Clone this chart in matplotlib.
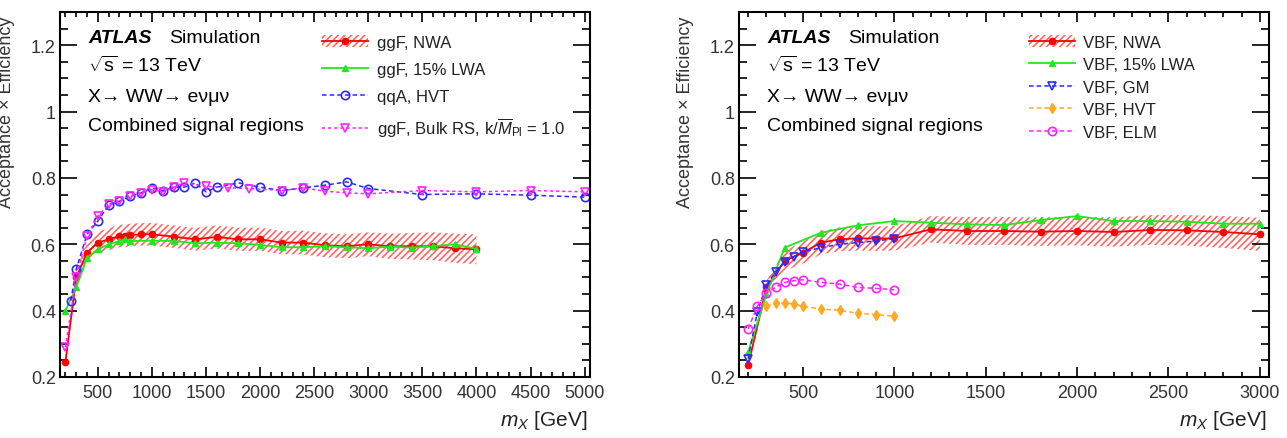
import numpy as np
import matplotlib
matplotlib.use('Agg')
import matplotlib.pyplot as plt
from matplotlib.patches import Patch
from matplotlib.lines import Line2D
from matplotlib.ticker import MultipleLocator

plt.rcParams['font.family'] = ['Liberation Sans', 'DejaVu Sans']
plt.rcParams['mathtext.fontset'] = 'custom'
plt.rcParams['mathtext.rm'] = 'Liberation Sans'
plt.rcParams['mathtext.it'] = 'Liberation Sans:italic'
plt.rcParams['hatch.linewidth'] = 1.2

# ---- left panel: ggF / qqA ----
ggf_nwa_m = [200, 300, 400, 500, 600, 700, 750, 800, 900, 1000, 1200, 1400, 1600, 1800,
             2000, 2200, 2400, 2600, 2800, 3000, 3200, 3400, 3600, 3800, 4000]
ggf_nwa_v = [0.245, 0.50, 0.575, 0.605, 0.615, 0.625, 0.625, 0.628, 0.63, 0.63, 0.623, 0.615,
             0.622, 0.615, 0.615, 0.605, 0.605, 0.597, 0.594, 0.60, 0.594, 0.594, 0.594, 0.588, 0.585]
ggf_nwa_err = [0.01, 0.025, 0.03, 0.033, 0.033, 0.034, 0.034, 0.034, 0.034, 0.034, 0.034, 0.034,
               0.035, 0.035, 0.035, 0.035, 0.036, 0.036, 0.036, 0.036, 0.038, 0.04, 0.042, 0.044, 0.045]

ggf_lwa_m = [200, 300, 400, 500, 600, 700, 750, 800, 1000, 1200, 1400, 1600, 1800, 2000,
             2200, 2400, 2600, 2800, 3000, 3200, 3400, 3600, 3800, 4000]
ggf_lwa_v = [0.40, 0.47, 0.56, 0.585, 0.60, 0.61, 0.615, 0.61, 0.611, 0.61, 0.603, 0.605, 0.603,
             0.598, 0.591, 0.591, 0.594, 0.591, 0.588, 0.593, 0.59, 0.594, 0.60, 0.586]

qqa_hvt_m = [250, 300, 400, 500, 600, 700, 800, 900, 1000, 1100, 1200, 1300, 1400, 1500, 1600,
             1800, 2000, 2200, 2400, 2600, 2800, 3000, 3500, 4000, 4500, 5000]
qqa_hvt_v = [0.43, 0.525, 0.63, 0.67, 0.718, 0.73, 0.745, 0.755, 0.77, 0.762, 0.772, 0.772, 0.785,
             0.758, 0.772, 0.785, 0.772, 0.762, 0.77, 0.778, 0.788, 0.768, 0.75, 0.752, 0.748, 0.742]

ggf_rs_m = [200, 300, 400, 500, 600, 700, 800, 900, 1000, 1100, 1200, 1300, 1500, 1700, 1900,
            2200, 2400, 2600, 2800, 3000, 3500, 4000, 4500, 5000]
ggf_rs_v = [0.29, 0.50, 0.625, 0.685, 0.72, 0.73, 0.745, 0.755, 0.765, 0.758, 0.772, 0.785, 0.775,
            0.77, 0.768, 0.762, 0.77, 0.76, 0.755, 0.752, 0.762, 0.758, 0.762, 0.758]

# ---- right panel: VBF ----
vbf_nwa_m = [200, 300, 400, 500, 600, 700, 800, 900, 1000, 1200, 1400, 1600, 1800, 2000,
             2200, 2400, 2600, 2800, 3000]
vbf_nwa_v = [0.235, 0.47, 0.55, 0.575, 0.605, 0.615, 0.618, 0.617, 0.618, 0.645, 0.64, 0.64,
             0.638, 0.64, 0.637, 0.643, 0.642, 0.637, 0.63]
vbf_nwa_err = [0.005, 0.02, 0.03, 0.033, 0.035, 0.036, 0.037, 0.037, 0.037, 0.04, 0.042, 0.042,
               0.043, 0.043, 0.044, 0.045, 0.046, 0.048, 0.05]

vbf_lwa_m = [200, 300, 400, 600, 800, 1000, 1200, 1400, 1600, 1800, 2000, 2200, 2400, 2600, 2800, 3000]
vbf_lwa_v = [0.275, 0.45, 0.59, 0.635, 0.657, 0.67, 0.665, 0.66, 0.658, 0.673, 0.685, 0.67,
             0.67, 0.668, 0.662, 0.662]

vbf_gm_m = [200, 250, 300, 350, 400, 450, 500, 600, 700, 800, 900, 1000]
vbf_gm_v = [0.255, 0.395, 0.477, 0.517, 0.547, 0.563, 0.577, 0.59, 0.60, 0.605, 0.61, 0.617]

vbf_hvt_m = [300, 350, 400, 450, 500, 600, 700, 800, 900, 1000]
vbf_hvt_v = [0.413, 0.423, 0.423, 0.42, 0.413, 0.405, 0.401, 0.392, 0.388, 0.383]

vbf_elm_m = [200, 250, 300, 350, 400, 450, 500, 600, 700, 800, 900, 1000]
vbf_elm_v = [0.345, 0.413, 0.453, 0.47, 0.485, 0.49, 0.493, 0.485, 0.48, 0.47, 0.467, 0.463]

RED = '#ff0000'
GREEN = '#22e622'
BLUE = '#2a2aff'
MAGENTA = '#ff22ff'
ORANGE = '#ffaa22'
HATCH = (1, 0.3, 0.3, 0.85)


def atlas_style(ax, xmax, xmajor):
    ax.set_ylim(0.2, 1.3)
    ax.set_xlim(150, xmax)
    ax.xaxis.set_major_locator(MultipleLocator(xmajor))
    ax.xaxis.set_minor_locator(MultipleLocator(100))
    ax.yaxis.set_minor_locator(MultipleLocator(0.05))
    ax.set_yticks([0.2, 0.4, 0.6, 0.8, 1.0, 1.2])
    ax.set_yticklabels(['0.2', '0.4', '0.6', '0.8', '1', '1.2'])
    ax.tick_params(axis='both', which='both', direction='in', top=True, right=True,
                   labelsize=13, width=1.2, labelcolor='#333333')
    ax.tick_params(axis='x', which='major', length=7, pad=5)
    ax.tick_params(axis='x', which='minor', length=3.5)
    ax.tick_params(axis='y', which='major', length=12, pad=3)
    ax.tick_params(axis='y', which='minor', length=6)
    for s in ax.spines.values():
        s.set_linewidth(1.5)
    ax.set_xlabel(r'$m_{X}$ [GeV]', fontsize=15, loc='right', color='#222222')
    ax.xaxis.set_label_coords(0.995, -0.085)
    ax.set_ylabel('Acceptance × Efficiency', fontsize=13, loc='top', color='#333333')
    ax.yaxis.set_label_coords(-0.085, 0.99)

    ax.text(0.053, 0.917, 'ATLAS', transform=ax.transAxes, fontsize=14,
            fontweight='bold', fontstyle='italic', va='baseline')
    ax.text(0.206, 0.917, 'Simulation', transform=ax.transAxes, fontsize=14, va='baseline')
    ax.text(0.053, 0.839, r'$\sqrt{\mathrm{s}}$ = 13 TeV', transform=ax.transAxes,
            fontsize=14, va='baseline')
    ax.text(0.053, 0.757, 'X→ WW→ eνμν', transform=ax.transAxes, fontsize=14, va='baseline')
    ax.text(0.053, 0.678, 'Combined signal regions', transform=ax.transAxes,
            fontsize=14, va='baseline')


def nwa(ax, m, v, err):
    m = np.array(m)
    v = np.array(v)
    err = np.array(err)
    ax.fill_between(m, v - err, v + err, facecolor='none', edgecolor=HATCH,
                    hatch='/////', linewidth=0)
    ax.plot(m, v, color=RED, lw=1.3, marker='o', ms=4.5)
    band = Patch(facecolor='none', edgecolor=HATCH, hatch='/////', linewidth=0)
    line = Line2D([], [], color=RED, lw=1.3, marker='o', ms=4.5)
    return (band, line)


fig = plt.figure(figsize=(12.87, 4.39), dpi=100)
ax1 = fig.add_axes([60 / 1287, 61 / 439, 530 / 1287, 365 / 439])
ax2 = fig.add_axes([739 / 1287, 61 / 439, 530 / 1287, 365 / 439])

# left panel
h_nwa = nwa(ax1, ggf_nwa_m, ggf_nwa_v, ggf_nwa_err)
h_lwa, = ax1.plot(ggf_lwa_m, ggf_lwa_v, color=GREEN, lw=1.3, marker='^', ms=4)
h_hvt, = ax1.plot(qqa_hvt_m, qqa_hvt_v, color=BLUE, lw=1.1, ls=(0, (3, 2)), marker='o', ms=6,
                  mfc='none', mew=1.2)
h_rs, = ax1.plot(ggf_rs_m, ggf_rs_v, color=MAGENTA, lw=1.1, ls=(0, (2, 2)), marker='v', ms=6,
                 mfc='none', mew=1.2)
atlas_style(ax1, 5050, 500)
ax1.legend([h_nwa, h_lwa, h_hvt, h_rs],
           ['ggF, NWA', 'ggF, 15% LWA', 'qqA, HVT', r'ggF, Bulk RS, k/$\overline{M}_{\mathrm{Pl}}$ = 1.0'],
           loc='upper left', bbox_to_anchor=(0.495, 0.938), frameon=False, fontsize=12,
           handlelength=2.75, handletextpad=0.5, labelspacing=0.72, borderaxespad=0,
           borderpad=0, labelcolor='#222222')

# right panel
h2_nwa = nwa(ax2, vbf_nwa_m, vbf_nwa_v, vbf_nwa_err)
h2_lwa, = ax2.plot(vbf_lwa_m, vbf_lwa_v, color=GREEN, lw=1.3, marker='^', ms=4)
h2_gm, = ax2.plot(vbf_gm_m, vbf_gm_v, color=BLUE, lw=1.1, ls=(0, (3, 2)), marker='v', ms=6,
                  mfc='none', mew=1.2)
h2_hvt, = ax2.plot(vbf_hvt_m, vbf_hvt_v, color=ORANGE, lw=1.1, ls=(0, (3, 2)), marker='d', ms=5)
h2_elm, = ax2.plot(vbf_elm_m, vbf_elm_v, color=MAGENTA, lw=1.1, ls=(0, (3, 2)), marker='o', ms=6,
                   mfc='none', mew=1.2)
atlas_style(ax2, 3050, 500)
ax2.legend([h2_nwa, h2_lwa, h2_gm, h2_hvt, h2_elm],
           ['VBF, NWA', 'VBF, 15% LWA', 'VBF, GM', 'VBF, HVT', 'VBF, ELM'],
           loc='upper left', bbox_to_anchor=(0.547, 0.938), frameon=False, fontsize=12,
           handlelength=2.75, handletextpad=0.5, labelspacing=0.45, borderaxespad=0,
           borderpad=0, labelcolor='#222222')

fig.savefig('out.png', dpi=100)
